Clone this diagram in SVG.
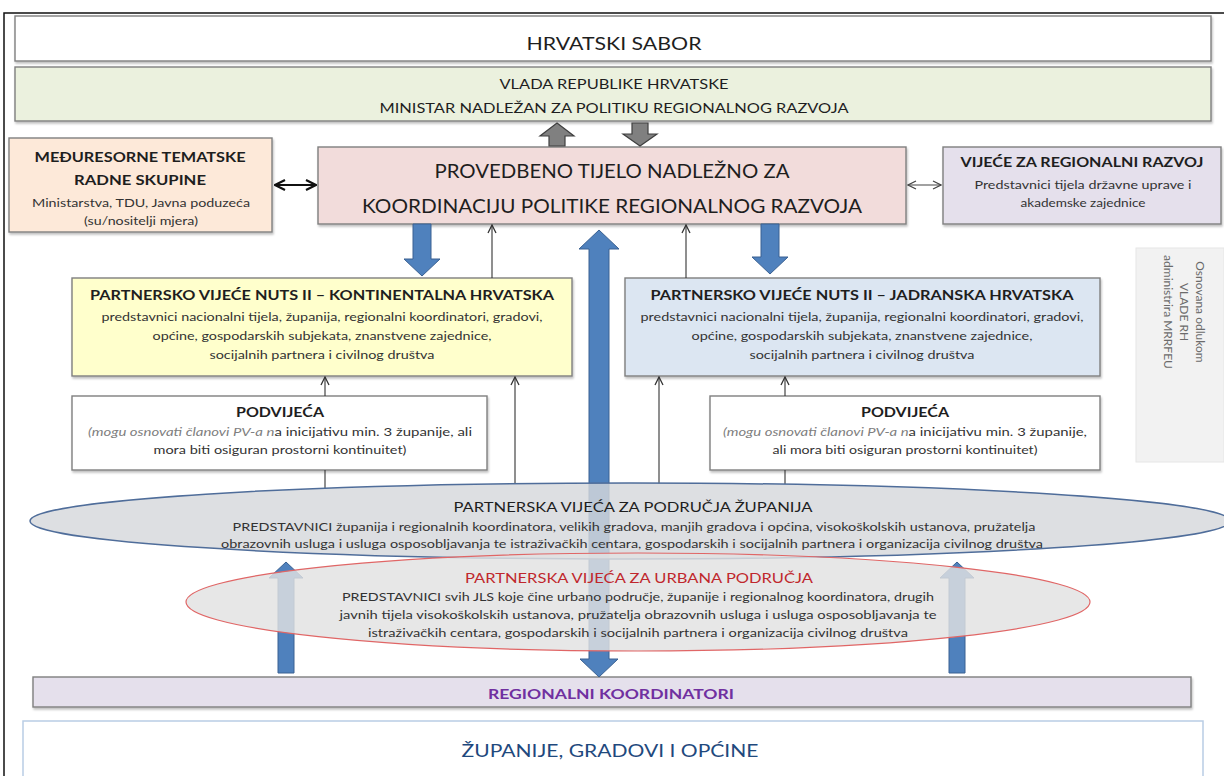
<svg xmlns="http://www.w3.org/2000/svg" width="1224" height="776" viewBox="0 0 1224 776">
<defs>
<style>
.box{stroke:#7f7f7f;stroke-width:1.4}
.t{font-family:Lato,"Liberation Sans",Arial,sans-serif;fill:#1e1e1e;text-anchor:middle}
.l{font-family:Lato,"Liberation Sans",Arial,sans-serif;font-size:11.5px;fill:#333}
.b{font-weight:bold}
.s{font-size:11.5px;fill:#333}
.blue{fill:#4f81bd;stroke:#3a6192;stroke-width:1}
.gray{fill:#808080;stroke:#3f3f3f;stroke-width:1.2}
.thin{stroke:#333;stroke-width:1.1;fill:none;marker-end:url(#chev)}
.it{font-style:italic;fill:#808080}
.side{font-size:12px;fill:#6b6b6b}
</style>
<marker id="chev" viewBox="0 0 10 10" refX="9" refY="5" markerWidth="10" markerHeight="10" markerUnits="userSpaceOnUse" orient="auto-start-reverse">
<path d="M1,1 L9,5 L1,9" fill="none" stroke="#333" stroke-width="1.3"/>
</marker>
<marker id="chevB" viewBox="0 0 12 12" refX="11" refY="6" markerWidth="12" markerHeight="12" markerUnits="userSpaceOnUse" orient="auto-start-reverse">
<path d="M1,1 L11,6 L1,11" fill="none" stroke="#111" stroke-width="2.2"/>
</marker>
<marker id="chevG" viewBox="0 0 10 10" refX="9" refY="5" markerWidth="10" markerHeight="10" markerUnits="userSpaceOnUse" orient="auto-start-reverse">
<path d="M1,1 L9,5 L1,9" fill="none" stroke="#444" stroke-width="1.2"/>
</marker>
<filter id="sh" x="-5%" y="-5%" width="110%" height="130%">
<feDropShadow dx="1" dy="2" stdDeviation="1.2" flood-color="#000" flood-opacity="0.25"/>
</filter>
</defs>
<rect width="1224" height="776" fill="#fff"/>
<path d="M4,776 V13 H1224" fill="none" stroke="#111" stroke-width="1.5"/>

<g id="sabor">
<rect class="box" x="15" y="16" width="1196" height="45" fill="#fff" filter="url(#sh)"/>
<text class="t" x="614" y="50" font-size="17" textLength="175" lengthAdjust="spacingAndGlyphs">HRVATSKI SABOR</text>
</g>

<g id="vlada">
<rect class="box" x="15" y="67" width="1196" height="54" fill="#ebf1de" filter="url(#sh)"/>
<text class="t" x="614" y="89" font-size="13.5" textLength="229" lengthAdjust="spacingAndGlyphs">VLADA REPUBLIKE HRVATSKE</text>
<text class="t" x="614" y="113" font-size="13.5" textLength="469" lengthAdjust="spacingAndGlyphs">MINISTAR NADLEŽAN ZA POLITIKU REGIONALNOG RAZVOJA</text>
</g>

<g id="meduresorne">
<rect class="box" x="9" y="138" width="263" height="94" fill="#fde9d9" filter="url(#sh)"/>
<text class="t b" x="140" y="162" font-size="14" textLength="211" lengthAdjust="spacingAndGlyphs">MEĐURESORNE TEMATSKE</text>
<text class="t b" x="140" y="185" font-size="14" textLength="132" lengthAdjust="spacingAndGlyphs">RADNE SKUPINE</text>
<text class="t s" x="141" y="207" font-size="12" textLength="218" lengthAdjust="spacingAndGlyphs">Ministarstva, TDU, Javna poduzeća</text>
<text class="t s" x="141" y="225" font-size="12" textLength="114" lengthAdjust="spacingAndGlyphs">(su/nositelji mjera)</text>
</g>

<g id="provedbeno">
<rect class="box" x="318" y="147" width="588" height="77" fill="#f2dcdb" filter="url(#sh)"/>
<text class="t" x="612" y="178" font-size="19" textLength="355" lengthAdjust="spacingAndGlyphs">PROVEDBENO TIJELO NADLEŽNO ZA</text>
<text class="t" x="612" y="213" font-size="19" textLength="500" lengthAdjust="spacingAndGlyphs">KOORDINACIJU POLITIKE REGIONALNOG RAZVOJA</text>
</g>

<g id="vijece-rr">
<rect class="box" x="943" y="147" width="278" height="77" fill="#e5e0ec" filter="url(#sh)"/>
<text class="t b" x="1082" y="167" font-size="14" textLength="243" lengthAdjust="spacingAndGlyphs">VIJEĆE ZA REGIONALNI RAZVOJ</text>
<text class="t s" x="1083" y="189" textLength="217" lengthAdjust="spacingAndGlyphs">Predstavnici tijela državne uprave i</text>
<text class="t s" x="1083" y="207" textLength="125" lengthAdjust="spacingAndGlyphs">akademske zajednice</text>
</g>

<g id="kontinentalna">
<rect class="box" x="72" y="278" width="500" height="98" fill="#ffffcc" filter="url(#sh)"/>
<text class="t b" x="322" y="300" font-size="14" textLength="464" lengthAdjust="spacingAndGlyphs">PARTNERSKO VIJEĆE NUTS II – KONTINENTALNA HRVATSKA</text>
<text class="t s" x="322" y="321" textLength="441" lengthAdjust="spacingAndGlyphs">predstavnici nacionalni tijela, županija, regionalni koordinatori, gradovi,</text>
<text class="t s" x="322" y="340" textLength="339" lengthAdjust="spacingAndGlyphs">općine, gospodarskih subjekata, znanstvene zajednice,</text>
<text class="t s" x="322" y="359" textLength="225" lengthAdjust="spacingAndGlyphs">socijalnih partnera i civilnog društva</text>
</g>

<g id="jadranska">
<rect class="box" x="625" y="278" width="475" height="98" fill="#dce6f2" filter="url(#sh)"/>
<text class="t b" x="862" y="300" font-size="14" textLength="423" lengthAdjust="spacingAndGlyphs">PARTNERSKO VIJEĆE NUTS II – JADRANSKA HRVATSKA</text>
<text class="t s" x="862" y="321" textLength="443" lengthAdjust="spacingAndGlyphs">predstavnici nacionalni tijela, županija, regionalni koordinatori, gradovi,</text>
<text class="t s" x="862" y="340" textLength="341" lengthAdjust="spacingAndGlyphs">općine, gospodarskih subjekata, znanstvene zajednice,</text>
<text class="t s" x="862" y="359" textLength="225" lengthAdjust="spacingAndGlyphs">socijalnih partnera i civilnog društva</text>
</g>

<g id="podvijeca-lijevo">
<rect class="box" x="72" y="396" width="415" height="74" fill="#fff" filter="url(#sh)"/>
<text class="t b" x="280" y="417" font-size="14" textLength="88" lengthAdjust="spacingAndGlyphs">PODVIJEĆA</text>
<text class="l" x="88" y="436" textLength="384" lengthAdjust="spacingAndGlyphs"><tspan class="it">(mogu osnovati članovi PV-a n</tspan>a inicijativu min. 3 županije, ali</text>
<text class="t s" x="280" y="454" textLength="253" lengthAdjust="spacingAndGlyphs">mora biti osiguran prostorni kontinuitet)</text>
</g>

<g id="podvijeca-desno">
<rect class="box" x="710" y="396" width="390" height="74" fill="#fff" filter="url(#sh)"/>
<text class="t b" x="905" y="417" font-size="14" textLength="88" lengthAdjust="spacingAndGlyphs">PODVIJEĆA</text>
<text class="l" x="723" y="436" textLength="364" lengthAdjust="spacingAndGlyphs"><tspan class="it">(mogu osnovati članovi PV-a n</tspan>a inicijativu min. 3 županije,</text>
<text class="t s" x="905" y="454" textLength="265" lengthAdjust="spacingAndGlyphs">ali mora biti osiguran prostorni kontinuitet)</text>
</g>

<g id="napomena">
<rect x="1136" y="248" width="88" height="214" fill="#f2f2f2" stroke="#e6e6e6" stroke-width="1"/>
<g transform="translate(1184,312) rotate(90)">
<text class="t side" x="0" y="-12">Osnovana odlukom</text>
<text class="t side" x="0" y="4">VLADE RH</text>
<text class="t side" x="0" y="20">administrira MRRFEU</text>
</g>
</g>

<g id="regionalni-koordinatori">
<rect class="box" x="33" y="677" width="1158" height="30" fill="#e5e0ec" filter="url(#sh)"/>
<text class="t b" x="611" y="699" font-size="13" style="fill:#7030a0" textLength="246" lengthAdjust="spacingAndGlyphs">REGIONALNI KOORDINATORI</text>
</g>

<g id="zupanije">
<rect x="23" y="721" width="1180" height="60" fill="#fff" stroke="#b9cde5" stroke-width="1.5"/>
<text class="t" x="610" y="757" font-size="17" style="fill:#1f497d" textLength="297" lengthAdjust="spacingAndGlyphs">ŽUPANIJE, GRADOVI I OPĆINE</text>
</g>

<g id="connectors">
<polygon class="gray" points="557,123 574,136 565,136 565,146 549,146 549,136 540,136"/>
<polygon class="gray" points="632,123 648,123 648,134 657,134 640,146 623,134 632,134"/>
<line x1="275" y1="185" x2="316" y2="185" stroke="#111" stroke-width="2" marker-start="url(#chevB)" marker-end="url(#chevB)"/>
<line x1="908" y1="185" x2="941" y2="185" stroke="#444" stroke-width="1.1" marker-start="url(#chevG)" marker-end="url(#chevG)"/>
<polygon class="blue" points="413,224 431,224 431,259 440,259 422,276 404,259 413,259"/>
<polygon class="blue" points="761,224 779,224 779,257 788,257 770,274 752,257 761,257"/>
<line class="thin" x1="492" y1="278" x2="492" y2="225"/>
<line class="thin" x1="686" y1="278" x2="686" y2="225"/>
<line class="thin" x1="325" y1="396" x2="325" y2="377"/>
<line x1="325" y1="470" x2="325" y2="488" stroke="#333" stroke-width="1.1"/>
<line class="thin" x1="515" y1="484" x2="515" y2="377"/>
<line class="thin" x1="659" y1="484" x2="659" y2="377"/>
<line class="thin" x1="785" y1="396" x2="785" y2="377"/>
<line x1="785" y1="470" x2="785" y2="484" stroke="#333" stroke-width="1.1"/>
<polygon class="blue" points="599,230 619,249 609,249 609,659 618,659 599,677 580,659 589,659 589,249 579,249"/>
<polygon class="blue" points="286,562 303,578 294,578 294,673 278,673 278,578 269,578"/>
<polygon class="blue" points="957,562 974,578 965,578 965,673 949,673 949,578 940,578"/>
</g>

<g id="vijeca-zupanija">
<ellipse cx="630" cy="521" rx="600" ry="38" fill="#d6d8dc" fill-opacity="0.82" stroke="#4f6d9a" stroke-width="1.5"/>
<text class="t" x="633" y="512" font-size="14" textLength="359" lengthAdjust="spacingAndGlyphs">PARTNERSKA VIJEĆA ZA PODRUČJA ŽUPANIJA</text>
<text class="t s" x="634" y="531" textLength="803" lengthAdjust="spacingAndGlyphs">PREDSTAVNICI županija i regionalnih koordinatora, velikih gradova, manjih gradova i općina, visokoškolskih ustanova, pružatelja</text>
<text class="t s" x="632" y="548" textLength="822" lengthAdjust="spacingAndGlyphs">obrazovnih usluga i usluga osposobljavanja te istraživačkih centara, gospodarskih i socijalnih partnera i organizacija civilnog društva</text>
</g>

<g id="vijeca-urbana">
<ellipse cx="638" cy="602" rx="452" ry="49" fill="#e2e2e2" fill-opacity="0.82" stroke="#e06666" stroke-width="1.2"/>
<text class="t" x="639" y="583" font-size="14" style="fill:#c0272d" textLength="348" lengthAdjust="spacingAndGlyphs">PARTNERSKA VIJEĆA ZA URBANA PODRUČJA</text>
<text class="t s" x="638" y="601" textLength="592" lengthAdjust="spacingAndGlyphs">PREDSTAVNICI svih JLS koje čine urbano područje, županije i regionalnog koordinatora, drugih</text>
<text class="t s" x="638" y="619" textLength="597" lengthAdjust="spacingAndGlyphs">javnih tijela visokoškolskih ustanova, pružatelja obrazovnih usluga i usluga osposobljavanja te</text>
<text class="t s" x="638" y="637" textLength="540" lengthAdjust="spacingAndGlyphs">istraživačkih centara, gospodarskih i socijalnih partnera i organizacija civilnog društva</text>
</g>
</svg>
